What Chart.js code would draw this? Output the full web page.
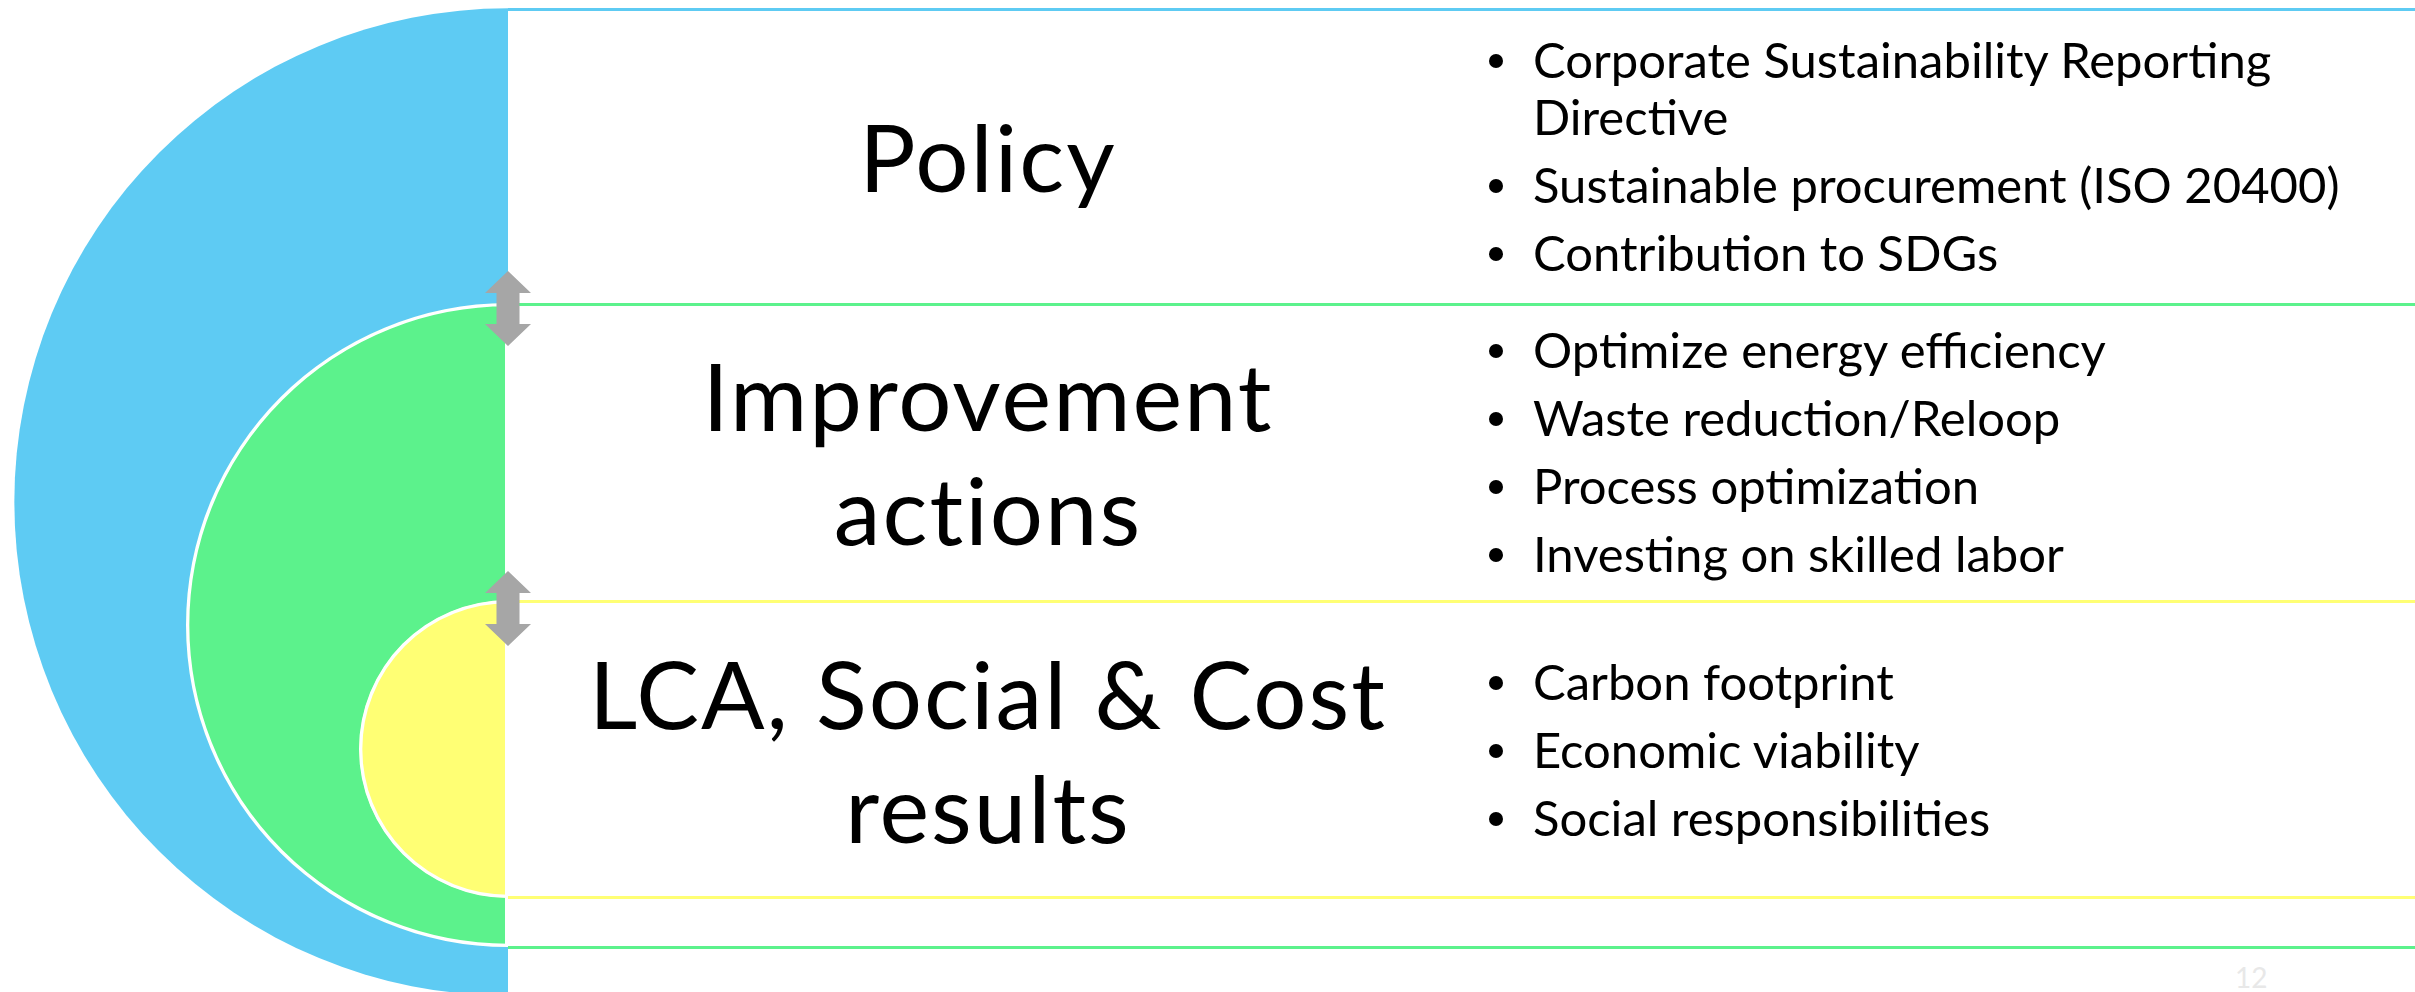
<!DOCTYPE html>
<html>
<head>
<meta charset="utf-8">
<script src="https://cdn.jsdelivr.net/npm/chart.js@4.4.1/dist/chart.umd.min.js"></script>
<style>
  html, body { margin: 0; padding: 0; background: #fff; }
  body { width: 2415px; height: 992px; position: relative; overflow: hidden; font-family: Lato, "Open Sans", sans-serif; color: #000; }
  .disc { position: absolute; }
  .band { position: absolute; left: 508px; right: -20px; background: #fff; box-sizing: border-box; border-style: solid; border-width: 3px 0 3px 0; }
  .title { position: absolute; left: 508px; width: 960px; display: flex; align-items: center; justify-content: center; text-align: center; font-size: 94px; letter-spacing: 2px; line-height: 114px; white-space: pre-line; }
  .items { position: absolute; left: 1480px; width: 930px; display: flex; flex-direction: column; justify-content: center; }
  .items ul { list-style: none; margin: 0; padding: 0; }
  .items li { position: relative; padding-left: 53px; font-size: 49px; line-height: 57px; margin: 11px 0; }
  .items li::before { content: ''; position: absolute; left: 9px; top: 23px; width: 14px; height: 14px; border-radius: 50%; background: #000; }
  .arrow { position: absolute; }
  .page { position: absolute; left: 2235px; top: 960px; font-size: 28px; color: #e8e8e8; }
</style>
</head>
<body>
<script>
// three nested levels, outer to inner
const levels = ['Policy', 'Improvement\nactions', 'LCA, Social & Cost\nresults'];
const levelWeight = [1, 1, 1];
const levelColors = ['#5ecbf3', '#5cf28c', '#ffff74'];

const policyItems = [
  'Corporate Sustainability Reporting Directive',
  'Sustainable procurement (ISO 20400)',
  'Contribution to SDGs'
];
const improvementItems = [
  'Optimize energy efficiency',
  'Waste reduction/Reloop',
  'Process optimization',
  'Investing on skilled labor'
];
const resultItems = [
  'Carbon footprint',
  'Economic viability',
  'Social responsibilities'
];
const levelItems = [policyItems, improvementItems, resultItems];

// geometry of the slide (px)
const axisX = 508;
const discs = [
  { r: 494, cy: 502 },
  { r: 322, cy: 625 },
  { r: 149, cy: 749 }
];
const bands = [
  { top: 8, bottom: 1010 },
  { top: 303, bottom: 949 },
  { top: 600, bottom: 899 }
];
const rows = [[8, 303], [303, 600], [600, 899]];

levels.forEach((name, i) => {
  const d = discs[i];
  const cv = document.createElement('canvas');
  cv.className = 'disc';
  cv.width = d.r;
  cv.height = d.r * 2;
  cv.style.left = (axisX - d.r) + 'px';
  cv.style.top = (d.cy - d.r) + 'px';
  cv.style.zIndex = i * 2 + 1;
  document.body.appendChild(cv);

  new Chart(cv, {
    type: 'pie',
    data: {
      labels: [name],
      datasets: [{
        data: [levelWeight[i]],
        backgroundColor: levelColors[i],
        borderColor: '#fff',
        borderWidth: i === 0 ? 0 : 3,
        borderAlign: 'inner'
      }]
    },
    options: {
      responsive: false,
      animation: false,
      events: [],
      rotation: 180,
      circumference: 180,
      layout: { padding: 0 },
      plugins: { legend: { display: false }, tooltip: { enabled: false } }
    }
  });

  const b = document.createElement('div');
  b.className = 'band';
  b.style.top = bands[i].top + 'px';
  b.style.height = (bands[i].bottom - bands[i].top) + 'px';
  b.style.borderColor = levelColors[i];
  b.style.zIndex = i * 2 + 2;
  document.body.appendChild(b);

  const t = document.createElement('div');
  t.className = 'title';
  t.style.top = rows[i][0] + 'px';
  t.style.height = (rows[i][1] - rows[i][0]) + 'px';
  t.style.zIndex = 10;
  t.textContent = name;
  document.body.appendChild(t);

  const box = document.createElement('div');
  box.className = 'items';
  box.style.top = rows[i][0] + 'px';
  box.style.height = (rows[i][1] - rows[i][0]) + 'px';
  box.style.zIndex = 10;
  const ul = document.createElement('ul');
  levelItems[i].forEach(txt => {
    const li = document.createElement('li');
    li.textContent = txt;
    ul.appendChild(li);
  });
  box.appendChild(ul);
  document.body.appendChild(box);
});

// double arrows between levels
[271, 571].forEach(top => {
  const ns = 'http://www.w3.org/2000/svg';
  const svg = document.createElementNS(ns, 'svg');
  svg.setAttribute('class', 'arrow');
  svg.setAttribute('width', 46);
  svg.setAttribute('height', 76);
  svg.style.left = (axisX - 23) + 'px';
  svg.style.top = top + 'px';
  svg.style.zIndex = 11;
  const p = document.createElementNS(ns, 'polygon');
  p.setAttribute('points', '23,0 0,22 11.5,22 11.5,53 0,53 23,75 46,53 34.5,53 34.5,22 46,22');
  p.setAttribute('fill', '#a6a6a6');
  svg.appendChild(p);
  document.body.appendChild(svg);
});

const pg = document.createElement('div');
pg.className = 'page';
pg.textContent = '12';
pg.style.zIndex = 12;
document.body.appendChild(pg);
</script>
</body>
</html>
